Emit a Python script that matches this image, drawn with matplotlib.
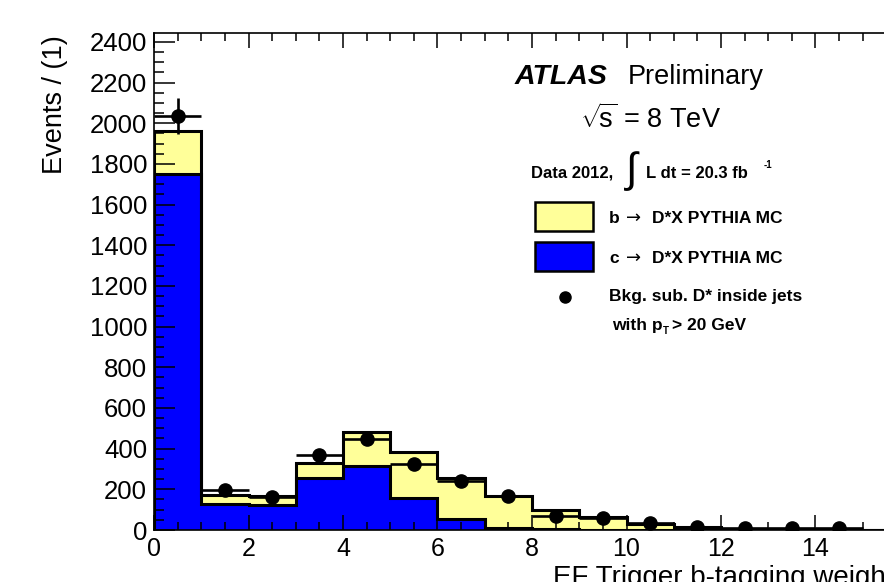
#!/usr/bin/env python3
# -*- coding: utf-8 -*-
"""ATLAS-style stacked histogram: EF trigger b-tagging weight of D* jets."""

import matplotlib

matplotlib.use("Agg")
import matplotlib.pyplot as plt
import numpy as np
from matplotlib.patches import Rectangle
from matplotlib.ticker import FixedLocator, MultipleLocator

# bin edges 0..16, width 1
bin_edges = list(range(0, 17))
c_mc = [1750, 130, 125, 255, 315, 155, 52, 12, 3, 1, 0.5, 0.3, 0.2, 0.1, 0.1, 0.0]
b_mc = [210, 42, 42, 74, 169, 230, 204, 157, 95, 65, 30, 13, 5, 3, 2, 1]
# data points in the first 15 bins (nothing is visible beyond)
data_y = [2037, 195, 162, 367, 447, 325, 240, 167, 70, 60, 34, 15, 10, 9, 8]
data_err = [88, 22, 20, 28, 30, 26, 22, 18, 12, 10, 8, 6, 5, 4, 4]
x_major_ticks = [0, 2, 4, 6, 8, 10, 12, 14]

YELLOW = "#ffff99"
BLUE = "#0000ff"
FONT = ["Liberation Sans", "DejaVu Sans"]

W, H = 884, 582


def fx(px):
    return px / W


def fy(py):
    return 1 - py / H


def main() -> None:
    plt.rcParams["font.family"] = FONT
    plt.rcParams["mathtext.fontset"] = "custom"
    plt.rcParams["mathtext.rm"] = "Liberation Sans"
    plt.rcParams["mathtext.it"] = "Liberation Sans"
    plt.rcParams["mathtext.bf"] = "Liberation Sans:bold"

    edges = np.array(bin_edges, dtype=float)
    c = np.array(c_mc)
    total = c + np.array(b_mc)
    centers = 0.5 * (edges[:-1] + edges[1:])

    fig = plt.figure(figsize=(W / 100, H / 100), dpi=100)
    # axes run past the right edge of the canvas, as in the cropped original
    ax = fig.add_axes([fx(154), 52 / H, 16 * 47.25 / W, (530 - 33) / H])

    ax.stairs(total, edges, fill=True, color=YELLOW, baseline=0)
    ax.stairs(c, edges, fill=True, color=BLUE, baseline=0)
    ax.stairs(total, edges, color="black", lw=2.2, baseline=0)
    ax.stairs(c, edges, color="black", lw=2.2, baseline=0)

    ax.errorbar(centers[:len(data_y)], data_y, xerr=0.5, yerr=data_err, fmt="o",
                color="black", ms=9.5, elinewidth=1.9, capsize=0, zorder=5)

    ax.set_xlim(0, 16)
    ax.set_ylim(0, 2444)
    ax.xaxis.set_major_locator(FixedLocator(x_major_ticks))
    ax.xaxis.set_minor_locator(MultipleLocator(0.5))
    ax.yaxis.set_major_locator(MultipleLocator(200))
    ax.yaxis.set_minor_locator(MultipleLocator(50))
    ax.tick_params(axis="both", which="both", direction="in", top=True, right=True,
                   width=1.1)
    ax.tick_params(axis="x", which="major", length=11, pad=5, labelsize=18)
    ax.tick_params(axis="x", which="minor", length=5.5)
    ax.tick_params(axis="y", which="major", length=15, pad=5, labelsize=18.5)
    ax.tick_params(axis="y", which="minor", length=7.5)
    for sp in ax.spines.values():
        sp.set_linewidth(1.2)

    fig.text(fx(55), fy(35), "Events / (1)", rotation=90, ha="center", va="top",
             fontsize=19.5)
    fig.text(fx(553), fy(585), "EF Trigger b-tagging weight", ha="left",
             va="baseline", fontsize=20)

    # ATLAS label block
    fig.text(fx(515), fy(84), "ATLAS", fontsize=20.5, fontweight="bold",
             fontstyle="italic", va="baseline")
    fig.text(fx(628), fy(84), "Preliminary", fontsize=19.5, va="baseline")
    fig.text(fx(580), fy(128), r"$\sqrt{\!\mathrm{s}}$ = 8 TeV", fontsize=19.5,
             va="baseline")

    fig.text(fx(531), fy(178), "Data 2012,", fontsize=12, fontweight="bold",
             va="baseline")
    fig.text(fx(624), fy(171), r"$\int$", fontsize=30, va="center")
    fig.text(fx(646), fy(178), "L dt = 20.3 fb", fontsize=12, fontweight="bold",
             va="baseline")
    fig.text(fx(764), fy(168), "-1", fontsize=7, fontweight="bold", va="baseline")

    # legend
    for top, col in [(202, YELLOW), (242, BLUE)]:
        fig.patches.append(Rectangle((fx(535), fy(top + 29)), 58 / W, 29 / H,
                                     transform=fig.transFigure, facecolor=col,
                                     edgecolor="black", lw=1.8))
    fig.text(fx(609), fy(223), "b", fontsize=12.5, fontweight="bold", va="baseline")
    fig.text(fx(609), fy(263), "c", fontsize=12.5, fontweight="bold", va="baseline")
    for base in (223, 263):
        fig.text(fx(626), fy(base), "\u2192", fontsize=13, va="baseline",
                 family="DejaVu Sans")
        fig.text(fx(652), fy(base), "D*X PYTHIA MC", fontsize=12.5,
                 fontweight="bold", va="baseline")
    fig.lines.append(plt.Line2D([fx(565)], [fy(297)], marker="o", ms=8, color="black",
                                transform=fig.transFigure))
    fig.text(fx(609), fy(301), "Bkg. sub. D* inside jets", fontsize=12.5,
             fontweight="bold", va="baseline")
    fig.text(fx(612), fy(330), "with p", fontsize=12.5, fontweight="bold",
             va="baseline")
    fig.text(fx(663), fy(334), "T", fontsize=7, fontweight="bold", va="baseline")
    fig.text(fx(672), fy(330), "> 20 GeV", fontsize=12.5, fontweight="bold",
             va="baseline")

    fig.savefig("out.png", dpi=100)
    plt.close(fig)


if __name__ == "__main__":
    main()
